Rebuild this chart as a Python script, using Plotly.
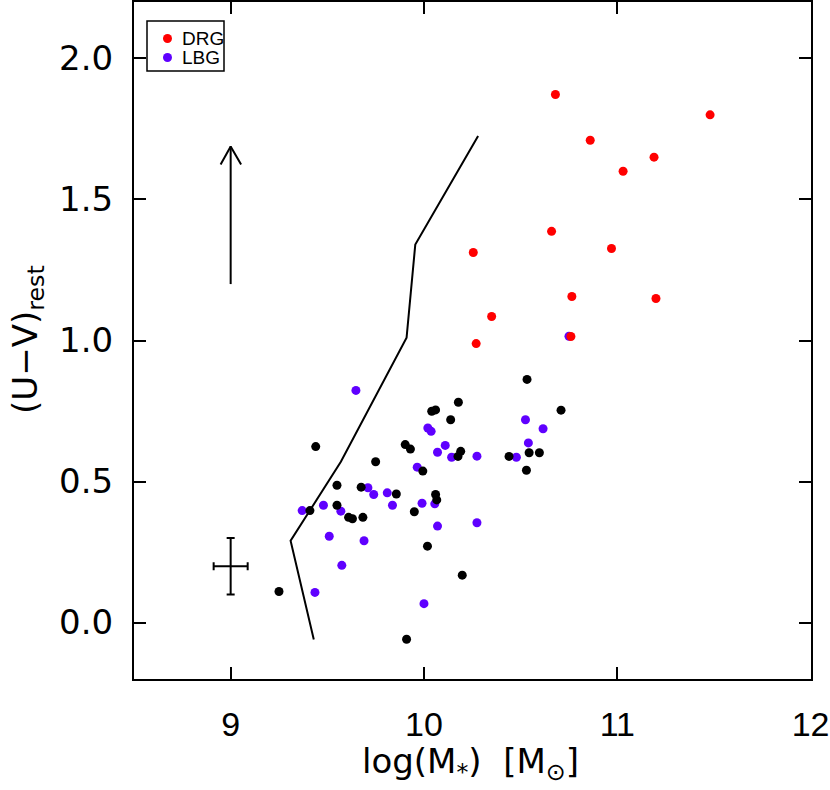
import plotly.graph_objects as go

# ---------------- data ----------------
drg_x = [10.68, 11.48, 10.86, 11.19, 11.03, 10.66, 10.97, 10.255, 10.765, 11.20, 10.35, 10.27, 10.76]
drg_y = [1.872, 1.80, 1.71, 1.65, 1.60, 1.387, 1.326, 1.312, 1.156, 1.149, 1.085, 0.989, 1.014]

lbg_x = [9.37, 9.436, 9.48, 9.51, 9.57, 9.575, 9.648, 9.69, 9.71, 9.74, 9.81, 9.837, 9.965,
         9.99, 10.0, 10.02, 10.037, 10.056, 10.07, 10.07, 10.11, 10.143, 10.274, 10.274,
         10.478, 10.525, 10.54, 10.616, 10.75]
lbg_y = [0.397, 0.107, 0.416, 0.306, 0.395, 0.203, 0.823, 0.290, 0.478, 0.454, 0.460, 0.416, 0.551,
         0.423, 0.067, 0.690, 0.678, 0.421, 0.604, 0.342, 0.628, 0.586, 0.590, 0.354,
         0.586, 0.719, 0.637, 0.687, 1.015]

oth_x = [9.25, 9.41, 9.44, 9.55, 9.55, 9.61, 9.63, 9.675, 9.684, 9.75, 9.857, 9.903, 9.93,
         9.91, 9.95, 9.994, 10.018, 10.04, 10.06, 10.06, 10.066, 10.138, 10.178, 10.176,
         10.19, 10.198, 10.44, 10.53, 10.533, 10.544, 10.597, 10.709]
oth_y = [0.110, 0.397, 0.624, 0.487, 0.416, 0.373, 0.368, 0.480, 0.373, 0.570, 0.456, 0.631, 0.615,
         -0.059, 0.393, 0.537, 0.271, 0.749, 0.754, 0.454, 0.435, 0.719, 0.781, 0.589,
         0.607, 0.168, 0.589, 0.540, 0.862, 0.602, 0.602, 0.753]

track_x = [9.43, 9.31, 9.57, 9.91, 9.955, 10.28]
track_y = [-0.06, 0.29, 0.57, 1.01, 1.34, 1.725]

arrow_x = [9.0, 9.0]
arrow_y = [1.20, 1.688]
arrow_head_x = [8.948, 9.0, 9.054]
arrow_head_y = [1.624, 1.688, 1.624]

err_x = [9.0]
err_y = [0.20]
err_dx = [0.088]
err_dy = [0.10]

x_ticks = [9, 10, 11, 12]
y_ticks = [0.0, 0.5, 1.0, 1.5, 2.0]
y_ticklabels = ["0.0", "0.5", "1.0", "1.5", "2.0"]

legend_names = ["DRG", "LBG"]

RED = "#ff0000"
BLUE = "#5f00ff"
FONT = "DejaVu Sans"

# layout geometry (pixels)
W, H = 830, 790
L, R, T, B = 134, 19, 2, 111
PW, PH = W - L - R, H - T - B


def px2paper(px, py):
    return (px - L) / PW, (H - B - py) / PH


fig = go.Figure()

fig.add_trace(go.Scatter(x=track_x, y=track_y, mode="lines",
                         line=dict(color="black", width=2), showlegend=False, hoverinfo="skip"))
fig.add_trace(go.Scatter(x=arrow_x, y=arrow_y, mode="lines",
                         line=dict(color="black", width=2), showlegend=False, hoverinfo="skip"))
fig.add_trace(go.Scatter(x=arrow_head_x, y=arrow_head_y, mode="lines",
                         line=dict(color="black", width=2), showlegend=False, hoverinfo="skip"))
fig.add_trace(go.Scatter(x=err_x, y=err_y, mode="markers",
                         marker=dict(size=1, color="black"),
                         error_x=dict(type="data", array=err_dx, color="black", thickness=2, width=4),
                         error_y=dict(type="data", array=err_dy, color="black", thickness=2, width=4),
                         showlegend=False, hoverinfo="skip"))

fig.add_trace(go.Scatter(x=lbg_x, y=lbg_y, mode="markers", name="LBG", showlegend=False,
                         marker=dict(size=9, color=BLUE, line=dict(width=0))))
fig.add_trace(go.Scatter(x=oth_x, y=oth_y, mode="markers", name="other", showlegend=False,
                         marker=dict(size=9, color="black", line=dict(width=0))))
fig.add_trace(go.Scatter(x=drg_x, y=drg_y, mode="markers", name="DRG", showlegend=False,
                         marker=dict(size=9, color=RED, line=dict(width=0))))

# ---- legend box drawn by hand (paper coords) ----
shapes = []
x0, y0 = px2paper(147, 71)
x1, y1 = px2paper(224, 21)
shapes.append(dict(type="rect", xref="paper", yref="paper", x0=x0, y0=y0, x1=x1, y1=y1,
                   line=dict(color="black", width=1.5), fillcolor="white", layer="above"))
annotations = []
for name, col, cy in zip(legend_names, [RED, BLUE], [38.5, 57.5]):
    cx0, cy0 = px2paper(167.5 - 4.5, cy + 4.5)
    cx1, cy1 = px2paper(167.5 + 4.5, cy - 4.5)
    shapes.append(dict(type="circle", xref="paper", yref="paper", x0=cx0, y0=cy0, x1=cx1, y1=cy1,
                       line=dict(width=0), fillcolor=col, layer="above"))
    tx, ty = px2paper(180, cy)
    annotations.append(dict(xref="paper", yref="paper", x=tx, y=ty, xanchor="left", yanchor="middle",
                            text=name, showarrow=False,
                            font=dict(family="Liberation Sans Narrow, Liberation Sans", size=19, color="black")))

# axis titles
tx, ty = px2paper(470, 763)
annotations.append(dict(xref="paper", yref="paper", x=tx, y=ty, xanchor="center", yanchor="middle",
                        text="log(M<sub>*</sub>)  [M<sub>⊙</sub>]", showarrow=False,
                        font=dict(family=FONT, size=34, color="black")))
tx, ty = px2paper(28, 340)
annotations.append(dict(xref="paper", yref="paper", x=tx, y=ty, xanchor="center", yanchor="middle",
                        text="(U−V)<sub>rest</sub>", showarrow=False, textangle=-90,
                        font=dict(family=FONT, size=34, color="black")))

fig.update_layout(
    width=W, height=H,
    margin=dict(l=L, r=R, t=T, b=B, autoexpand=False),
    paper_bgcolor="white", plot_bgcolor="white",
    font=dict(family=FONT, color="black"),
    showlegend=False,
    shapes=shapes, annotations=annotations,
)

fig.update_xaxes(range=[8.5, 12.002], tickvals=x_ticks, ticktext=[str(v) for v in x_ticks],
                 ticks="inside", ticklen=12, tickwidth=1.5, tickcolor="black",
                 showline=True, linewidth=2, linecolor="black", mirror="ticks",
                 showgrid=False, zeroline=False, automargin=False, ticklabeloverflow="allow",
                 tickfont=dict(family="Liberation Sans", size=34), ticklabelstandoff=14)
fig.update_yaxes(range=[-0.2, 2.2], tickvals=y_ticks, ticktext=y_ticklabels,
                 ticks="inside", ticklen=12, tickwidth=1.5, tickcolor="black",
                 showline=True, linewidth=2, linecolor="black", mirror="ticks",
                 showgrid=False, zeroline=False, automargin=False, ticklabeloverflow="allow",
                 tickfont=dict(family=FONT, size=34), ticklabelstandoff=12)

fig.write_html("out.html", config={"displayModeBar": False},
               post_script="document.body.style.margin='0';document.body.style.overflow='hidden';")
